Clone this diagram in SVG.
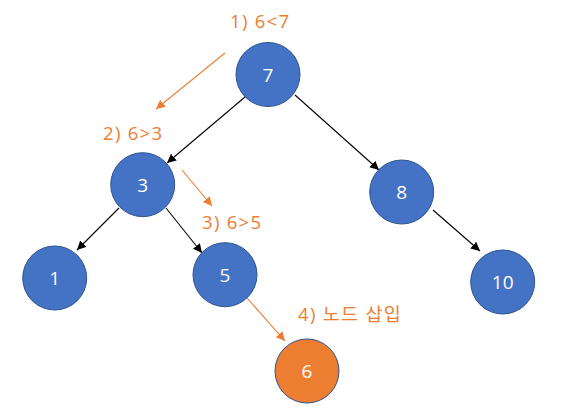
<svg xmlns="http://www.w3.org/2000/svg" width="561" height="418" viewBox="0 0 561 418">
<style>
.node{fill:#4472C4;stroke:#2F528F;stroke-width:1}
.new{fill:#ED7D31;stroke:#2F528F;stroke-width:1}
.lbl{font-family:"Open Sans","Noto Sans","Liberation Sans",sans-serif;font-size:19px;fill:#FFFFFF;text-anchor:middle}
.step{font-family:"Open Sans","Noto Sans CJK KR",sans-serif;font-size:18.5px;fill:#ED7D31;letter-spacing:1.3px}
.edge{stroke:#000000;stroke-width:1.1;fill:none;marker-end:url(#ah)}
.oedge{stroke:#ED7D31;stroke-width:1.1;fill:none;marker-end:url(#oah)}
</style>
<defs>
<marker id="ah" viewBox="0 0 10 10" refX="10" refY="5" markerWidth="9" markerHeight="9" markerUnits="userSpaceOnUse" orient="auto"><path d="M0,0 L10,5 L0,10 z" fill="#000000"/></marker>
<marker id="oah" viewBox="0 0 10 10" refX="10" refY="5" markerWidth="9" markerHeight="9" markerUnits="userSpaceOnUse" orient="auto"><path d="M0,0 L10,5 L0,10 z" fill="#ED7D31"/></marker>
</defs>
<rect width="561" height="418" fill="#FFFFFF"/>
<g id="connectors">
<line class="edge" x1="245" y1="97" x2="167" y2="163"/>
<line class="edge" x1="295" y1="95" x2="379" y2="170"/>
<line class="edge" x1="119" y1="208" x2="77" y2="250"/>
<line class="edge" x1="166" y1="208" x2="202" y2="253"/>
<line class="edge" x1="433" y1="210" x2="480" y2="251"/>
<line class="oedge" x1="225" y1="53" x2="156" y2="109"/>
<line class="oedge" x1="182" y1="170" x2="212" y2="206"/>
<line class="oedge" x1="247" y1="298" x2="285" y2="341"/>
</g>
<g id="node7"><circle class="node" cx="268" cy="74.5" r="32"/><text class="lbl" x="268" y="81.5">7</text></g>
<g id="node3"><circle class="node" cx="142.7" cy="184.7" r="32"/><text class="lbl" x="142.7" y="191.5">3</text></g>
<g id="node8"><circle class="node" cx="401.7" cy="192" r="32"/><text class="lbl" x="401.7" y="199">8</text></g>
<g id="node1"><circle class="node" cx="54.7" cy="278" r="32"/><text class="lbl" x="54.7" y="285">1</text></g>
<g id="node5"><circle class="node" cx="225" cy="274.7" r="32"/><text class="lbl" x="225" y="281.5">5</text></g>
<g id="node10"><circle class="node" cx="502.7" cy="282" r="32"/><text class="lbl" x="502.7" y="289">10</text></g>
<g id="node6"><circle class="new" cx="307" cy="371" r="32"/><text class="lbl" x="307" y="378">6</text></g>
<g id="steps">
<text class="step" x="230" y="28">1) 6&lt;7</text>
<text class="step" x="103" y="140">2) 6&gt;3</text>
<text class="step" x="202" y="229">3) 6&gt;5</text>
<text class="step" x="298" y="321">4) 노드 삽입</text>
</g>
</svg>
